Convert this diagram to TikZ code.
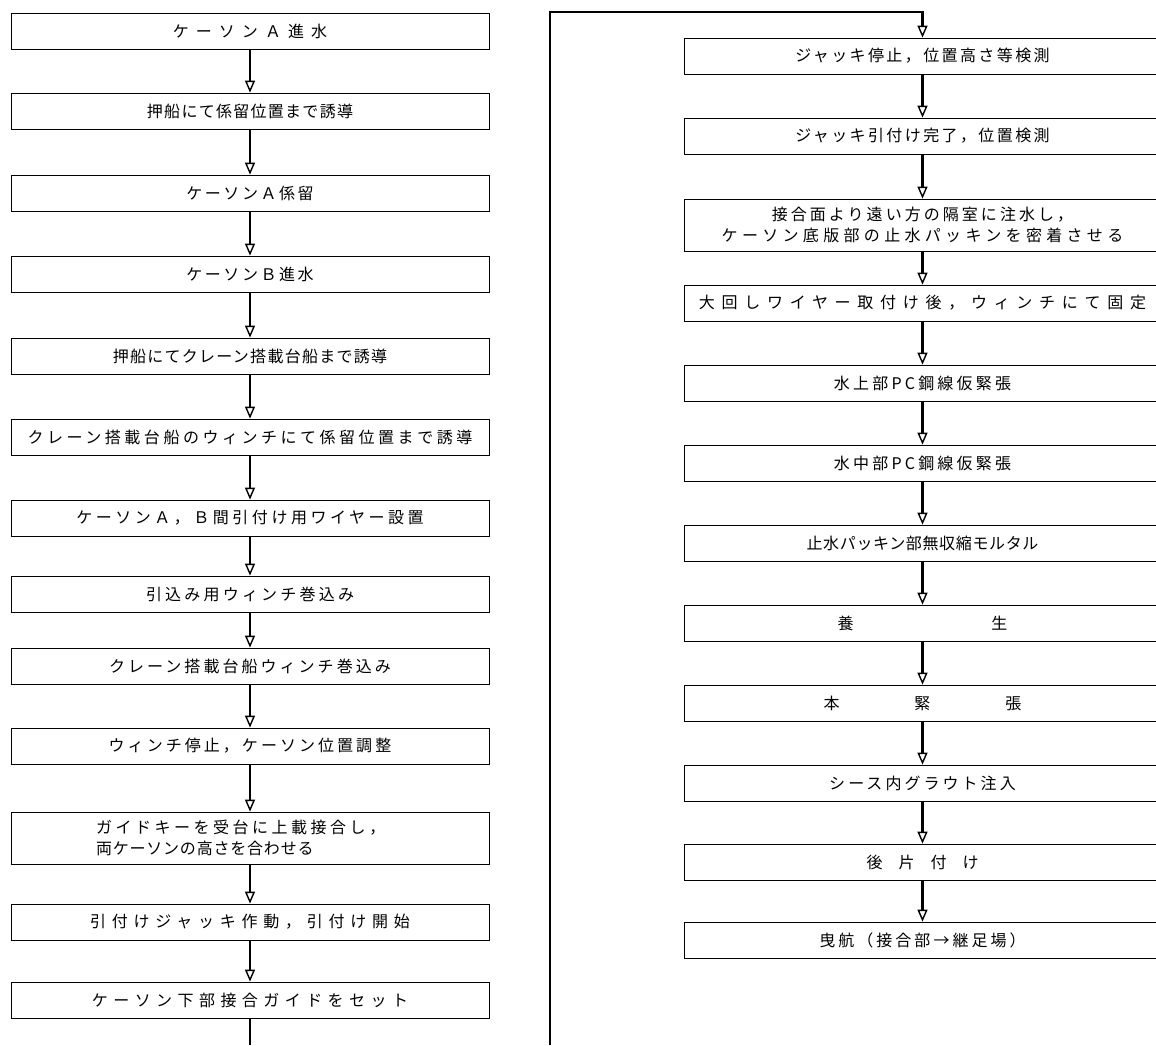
\documentclass[tikz,border=0pt]{standalone}
\usepackage{fontspec}
\newfontfamily\jp{Noto Sans CJK JP}
\newcommand\jpf{\fontsize{16pt}{21pt}\selectfont\jp}
\newcommand\lsp[1]{\addfontfeatures{LetterSpace=#1}}
\usetikzlibrary{arrows.meta}
\begin{document}
\begin{tikzpicture}[x=1pt,y=-1pt,
  box/.style={draw, line width=0.8pt, inner sep=0pt, minimum height=36pt, font=\jpf},
  lbox/.style={box, minimum width=478pt},
  rbox/.style={box, minimum width=476pt},
  ls/.style={font=\jpf\lsp{#1}},
  flow/.style={line width=2.7pt, -{Triangle[open,length=12pt,width=10pt,line width=1.4pt]}},
  wire/.style={line width=2.7pt}]
\useasboundingbox (0,0) rectangle (1156,1045);
% left column
\node[lbox, ls=44] (l1)  at (250,31)  {ケーソンＡ進水};
\node[lbox, ls=8]  (l2)  at (250,111) {押船にて係留位置まで誘導};
\node[lbox, ls=16] (l3)  at (250,193) {ケーソンＡ係留};
\node[lbox, ls=16] (l4)  at (250,274) {ケーソンＢ進水};
\node[lbox, ls=8]  (l5)  at (250,356) {押船にてクレーン搭載台船まで誘導};
\node[lbox, ls=22] (l6)  at (250,437) {クレーン搭載台船のウィンチにて係留位置まで誘導};
\node[lbox, ls=22] (l7)  at (250,518) {ケーソンＡ，Ｂ間引付け用ワイヤー設置};
\node[lbox, ls=20] (l8)  at (250,594) {引込み用ウィンチ巻込み};
\node[lbox, ls=19] (l9)  at (250,666) {クレーン搭載台船ウィンチ巻込み};
\node[lbox, ls=19] (l10) at (250,746) {ウィンチ停止，ケーソン位置調整};
\node[lbox, minimum height=52pt, text width=308pt, inner xsep=85pt, align=left] (l11) at (250,838)
  {{\lsp{22}ガイドキーを受台に上載接合し，}\\{\lsp{5}両ケーソンの高さを合わせる}};
\node[lbox, ls=36] (l12) at (250,922)  {引付けジャッキ作動，引付け開始};
\node[lbox, ls=34] (l13) at (250,1000) {ケーソン下部接合ガイドをセット};
% right column
\node[rbox, ls=15] (r1)  at (922.5,56)  {ジャッキ停止，位置高さ等検測};
\node[rbox, ls=15] (r2)  at (922.5,136) {ジャッキ引付け完了，位置検測};
\node[rbox, minimum height=52pt, align=center] (r3) at (922.5,225)
  {{\lsp{19}接合面より遠い方の隔室に注水し，}\\{\lsp{27}ケーソン底版部の止水パッキンを密着させる}};
\node[rbox, ls=42] (r4)  at (922.5,303) {大回しワイヤー取付け後，ウィンチにて固定};
\node[rbox, ls=20] (r5)  at (922.5,383) {水上部PC鋼線仮緊張};
\node[rbox, ls=20] (r6)  at (922.5,463) {水中部PC鋼線仮緊張};
\node[rbox, ls=4]  (r7)  at (922.5,543) {止水パッキン部無収縮モルタル};
\node[rbox, ls=380] (r8) at (922.5,623) {養　生};
\node[rbox, ls=184] (r9) at (922.5,703) {本　緊　張};
\node[rbox, ls=19] (r10) at (922.5,783) {シース内グラウト注入};
\node[rbox, ls=100] (r11) at (922.5,862) {後片付け};
\node[rbox, ls=19] (r12) at (922.5,940) {曳航（接合部→継足場）};
% connectors
\foreach \a/\b in {l1/l2,l2/l3,l3/l4,l4/l5,l5/l6,l6/l7,l7/l8,l8/l9,l9/l10,l10/l11,l11/l12,l12/l13,
  r1/r2,r2/r3,r3/r4,r4/r5,r5/r6,r6/r7,r7/r8,r8/r9,r9/r10,r10/r11,r11/r12}
  \draw[flow] (\a.south) -- (\b.north);
\coordinate (lend) at (250,1045);
\coordinate (rend) at (550,1045);
\coordinate (rtop) at (550,12);
\draw[wire] (l13.south) -- (lend);
\draw[flow] (rend) -- (rtop) -| (r1.north);
\end{tikzpicture}
\end{document}
